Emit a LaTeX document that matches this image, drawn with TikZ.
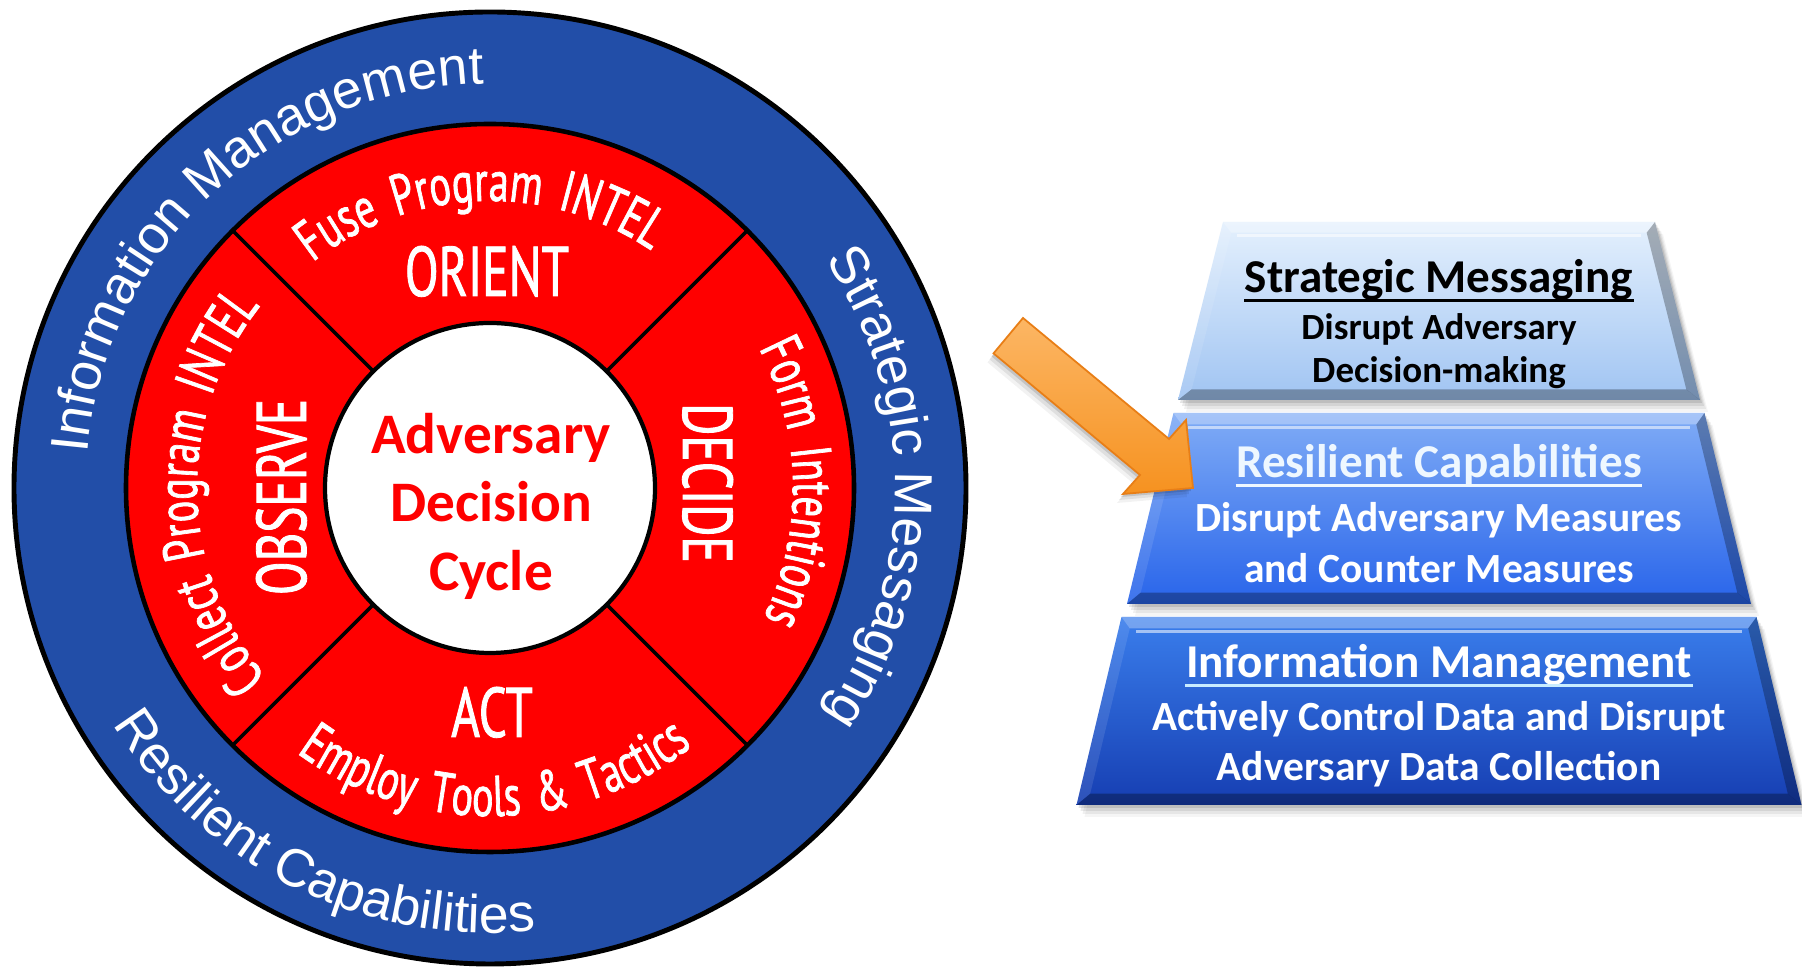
\documentclass[tikz,border=0pt]{standalone}
\usepackage{fontspec}
\usetikzlibrary{decorations.text,calc}
\newfontfamily\outerfont{Liberation Sans}
\newfontfamily\ringfont[FakeStretch=0.70,FakeBold=1.2,WordSpace=1.6]{PT Sans}
\newfontfamily\calfont{Carlito}
\definecolor{ringblue}{RGB}{34,78,168}
\definecolor{ringred}{RGB}{255,0,0}
\definecolor{arrowlight}{RGB}{252,182,100}
\definecolor{arrowdark}{RGB}{246,146,32}
\definecolor{arrowedge}{RGB}{232,126,22}
\definecolor{bA}{RGB}{228,240,253}
\definecolor{bB}{RGB}{160,196,242}
\definecolor{bC}{RGB}{128,172,246}
\definecolor{bD}{RGB}{40,100,234}
\definecolor{bE}{RGB}{58,126,236}
\definecolor{bF}{RGB}{22,62,178}
\definecolor{titlelight}{RGB}{238,247,255}
\definecolor{underlight}{RGB}{200,236,255}

\tikzset{
  ringword/.style={text=white, font=\ringfont\fontsize{20}{24}\selectfont, inner sep=0, anchor=base},
  centreword/.style={text=ringred, font=\calfont\bfseries\fontsize{16.3}{19.6}\selectfont, inner sep=0, anchor=base},
  pyrtitle/.style={font=\calfont\bfseries\fontsize{13.4}{16}\selectfont, inner sep=0, anchor=base},
  pyrsmall/.style={font=\calfont\bfseries\fontsize{10.5}{12.6}\selectfont, inner sep=0, anchor=base},
  pyrline/.style={font=\calfont\bfseries\fontsize{11.8}{14}\selectfont, inner sep=0, anchor=base},
  outerarc/.style={decorate, decoration={text along path, text align=center, text color=white,
    text={|\outerfont\fontsize{15.2}{18}\selectfont|#1}}},
  ringarc/.style={decorate, decoration={text along path, text align=center, text color=white,
    text={|\ringfont\fontsize{16.3}{19}\selectfont|#1}}},
}

% one tier of the pyramid: name, top y, bottom y, top half width, bottom half width, colours
\newcommand\pyrblock[7]{%
  \coordinate (#1tl) at (1439-#4,#2);
  \coordinate (#1tr) at (1439+#4,#2);
  \coordinate (#1br) at (1439+#5,#3);
  \coordinate (#1bl) at (1439-#5,#3);
  \foreach \dx/\dy/\op in {2/-3/0.10,4/-6/0.08,6/-9/0.06,8/-12/0.04}
    \fill[black,opacity=\op] ($(#1tl)+(\dx,\dy)$) -- ($(#1tr)+(\dx,\dy)$) -- ($(#1br)+(\dx,\dy)$) -- ($(#1bl)+(\dx,\dy)$) -- cycle;
  \shade[top color=#6,bottom color=#7] (#1tl) -- (#1tr) -- (#1br) -- (#1bl) -- cycle;
  \coordinate (#1itl) at ($(#1tl)!0.06!(#1bl)+(11,0)$);
  \coordinate (#1itr) at ($(#1tr)!0.06!(#1br)+(-11,0)$);
  \coordinate (#1ibr) at ($(#1br)!0.06!(#1tr)+(-11,0)$);
  \coordinate (#1ibl) at ($(#1bl)!0.06!(#1tl)+(11,0)$);
  \fill[white,opacity=0.30] (#1tl) -- (#1tr) -- (#1itr) -- (#1itl) -- cycle;
  \fill[white,opacity=0.10] (#1tl) -- (#1itl) -- (#1ibl) -- (#1bl) -- cycle;
  \fill[black,opacity=0.28] (#1tr) -- (#1br) -- (#1ibr) -- (#1itr) -- cycle;
  \fill[black,opacity=0.30] (#1bl) -- (#1ibl) -- (#1ibr) -- (#1br) -- cycle;
  \draw[white,opacity=0.55,line width=1pt] ($(#1itl)+(6,-3)$) -- ($(#1itr)+(-6,-3)$);
}

\begin{document}
\begin{tikzpicture}[x=0.01cm,y=0.01cm]
\useasboundingbox (0,0) rectangle (1802,967);
\fill[white] (0,0) rectangle (1802,967);
\coordinate (C) at (490,479);

% rings of the decision cycle
\fill[ringblue] (C) circle[radius=476];
\draw[line width=1.4pt] (C) circle[radius=476];
\fill[ringred] (C) circle[radius=364];
\draw[line width=1.3pt] (C) circle[radius=364];
\foreach \a in {45,135,225,315}
  \draw[line width=1pt] (C) ++(\a:165) -- ++(\a:199);
\fill[white] (C) circle[radius=165];
\draw[line width=1.2pt] (C) circle[radius=165];

% outer ring labels
\path[outerarc={Information Management}] (C) ++(213:404) arc[start angle=213,end angle=53,radius=404];
\path[outerarc={Strategic Messaging}] (C) ++(80:405) arc[start angle=80,end angle=-80,radius=405];
\path[outerarc={Resilient Capabilities}] (C) ++(164:445) arc[start angle=164,end angle=324,radius=445];

% red ring labels
\path[ringarc={Fuse Program INTEL}] (C) ++(172:287) arc[start angle=172,end angle=12,radius=287];
\path[ringarc={Form Intentions}] (C) ++(81:303) arc[start angle=81,end angle=-79,radius=303];
\path[ringarc={Collect Program INTEL}] (C) ++(261:293) arc[start angle=261,end angle=101,radius=293];
\path[ringarc={Employ Tools {\&} Tactics}] (C) ++(191:328) arc[start angle=191,end angle=351,radius=328];

\node[ringword] (orient) at (487,671) {ORIENT};
\node[ringword] (act) at (492,230) {ACT};
\node[ringword,rotate=90] (observe) at (306,470) {OBSERVE};
\node[ringword,rotate=-90] (decide) at (683,484) {DECIDE};

% centre
\node[centreword] (cw1) at (491,513) {Adversary};
\node[centreword] (cw2) at (491,445) {Decision};
\node[centreword] (cw3) at (491,376) {Cycle};

% pyramid
\pyrblock{pa}{745}{567}{216}{261}{bA}{bB}
\pyrblock{pb}{554}{363}{265.5}{312}{bC}{bD}
\pyrblock{pc}{350}{162}{317.5}{362.5}{bE}{bF}

\node[pyrtitle,text=black] (smt) at (1439,674) {Strategic Messaging};
\draw[black,line width=0.85pt] ([yshift=-2pt]smt.base west) -- ([yshift=-2pt]smt.base east);
\node[pyrsmall,text=black] (sm1) at (1439,627) {Disrupt Adversary};
\node[pyrsmall,text=black] (sm2) at (1439,584) {Decision-making};

\node[pyrtitle,text=titlelight] (rct) at (1439,489) {Resilient Capabilities};
\draw[titlelight,line width=0.85pt] ([yshift=-2pt]rct.base west) -- ([yshift=-2pt]rct.base east);
\node[pyrline,text=white] (rc1) at (1439,435) {Disrupt Adversary Measures};
\node[pyrline,text=white] (rc2) at (1439,384) {and Counter Measures};

\node[pyrtitle,text=white] (imt) at (1439,289) {Information Management};
\draw[underlight,line width=0.85pt] ([yshift=-2pt]imt.base west) -- ([yshift=-2pt]imt.base east);
\node[pyrline,text=white] (im1) at (1439,236) {Actively Control Data and Disrupt};
\node[pyrline,text=white] (im2) at (1439,186) {Adversary Data Collection};

% block arrow pointing at the middle tier
\coordinate (atl) at (1023,649);
\coordinate (abl) at (993.5,613.6);
\coordinate (asu) at (1169,528);
\coordinate (asl) at (1140,492);
\coordinate (ahu) at (1186,547);
\coordinate (ahl) at (1123,473);
\coordinate (atip) at (1193,479);
\foreach \s/\op in {{(-2,-3)}/0.12,{(-4,-6)}/0.08,{(-6,-9)}/0.05}
  \fill[black,opacity=\op] ([shift=\s]atl) -- ([shift=\s]asu) -- ([shift=\s]ahu) -- ([shift=\s]atip) -- ([shift=\s]ahl) -- ([shift=\s]asl) -- ([shift=\s]abl) -- cycle;
\shadedraw[top color=arrowlight,bottom color=arrowdark,draw=arrowedge,line width=0.5pt,line join=miter]
  (atl) -- (asu) -- (ahu) -- (atip) -- (ahl) -- (asl) -- (abl) -- cycle;
\end{tikzpicture}
\end{document}
